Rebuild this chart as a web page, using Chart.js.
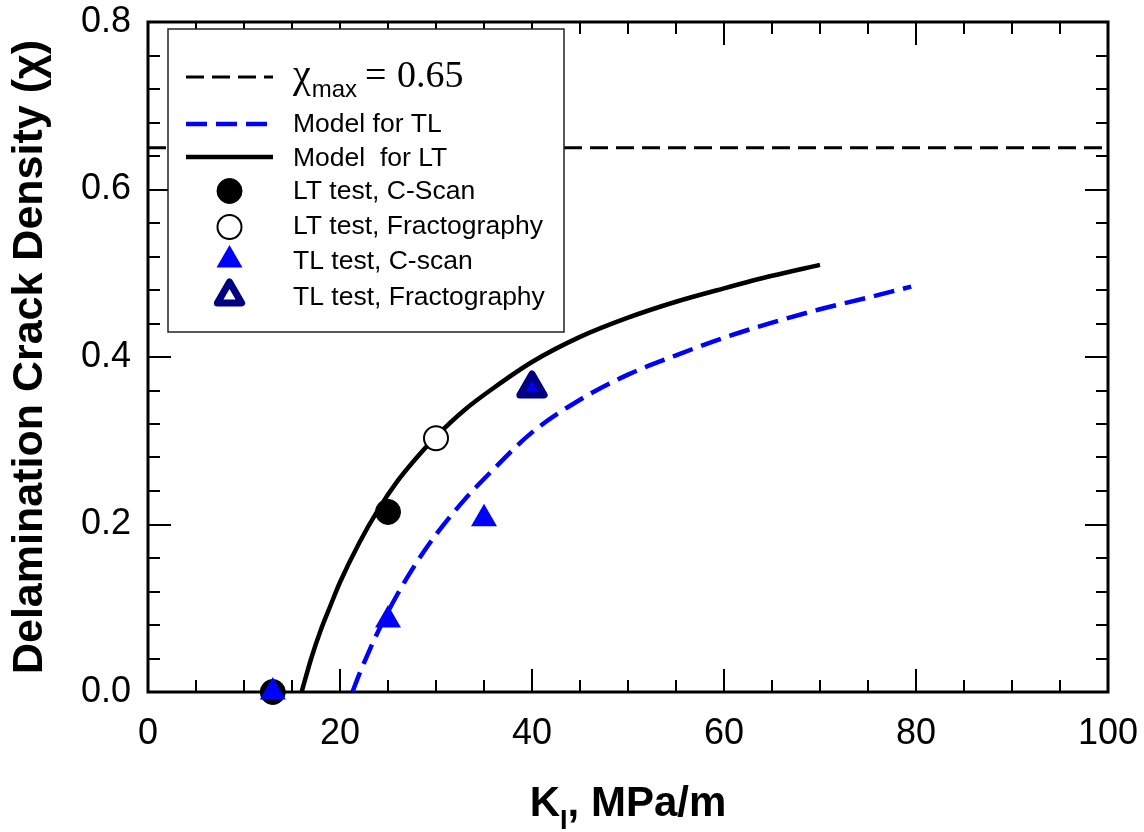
<!DOCTYPE html>
<html>
<head>
<meta charset="utf-8">
<title>Delamination crack density vs K_I</title>
<script src="https://cdn.jsdelivr.net/npm/chart.js@4/dist/chart.umd.min.js"></script>
<style>
  html, body { margin: 0; padding: 0; background: #ffffff; }
  #wrap { width: 1144px; height: 832px; }
</style>
</head>
<body>
<div id="wrap"><canvas id="chart" width="1144" height="832"></canvas></div>
<script>
// ---- axis ticks ----
const xTickValues = [0, 20, 40, 60, 80, 100];
const xTickLabels = ['0', '20', '40', '60', '80', '100'];
const yTickValues = [0, 0.2, 0.4, 0.6, 0.8];
const yTickLabels = ['0.0', '0.2', '0.4', '0.6', '0.8'];

// ---- saturation level ----
const chiMaxValue = 0.65;
const chiMaxK = [0, 100];

// ---- model curves ----
const tlModelK   = [21.3, 22.0, 23.0, 24.0, 26.0, 28.0, 30.0, 33.0, 36.0, 40.0, 45.0, 50.0, 55.0, 60.0, 65.0, 70.0, 75.0, 79.5];
const tlModelChi = [0.000, 0.021, 0.048, 0.073, 0.117, 0.155, 0.188, 0.230, 0.266, 0.310, 0.349, 0.379, 0.402, 0.423, 0.441, 0.457, 0.471, 0.484];

const ltModelK   = [16.0, 17.0, 18.0, 19.0, 20.0, 22.0, 24.0, 26.0, 28.0, 30.0, 33.0, 36.0, 40.0, 45.0, 50.0, 55.0, 60.0, 65.0, 70.0];
const ltModelChi = [0.000, 0.040, 0.074, 0.103, 0.131, 0.178, 0.218, 0.252, 0.280, 0.305, 0.337, 0.363, 0.394, 0.424, 0.447, 0.466, 0.482, 0.497, 0.510];

// ---- test measurements ----
const ltCscanK   = [13, 25];
const ltCscanChi = [0.000, 0.215];
const ltFractK   = [30];
const ltFractChi = [0.303];
const tlCscanK   = [13, 25, 35, 40];
const tlCscanChi = [0.000, 0.086, 0.207, 0.363];
const tlFractK   = [40];
const tlFractChi = [0.363];

// ---- legend text ----
const legendLabels = [
  'χmax = 0.65',
  'Model for TL',
  'Model  for LT',
  'LT test, C-Scan',
  'LT test, Fractography',
  'TL test, C-scan',
  'TL test, Fractography'
];

const pairs = (xs, ys) => xs.map((x, i) => ({ x: x, y: ys[i] }));

const SANS = '"Liberation Sans", Arial, Helvetica, sans-serif';
const SERIF = '"Liberation Serif", "Times New Roman", serif';
const BLUE = '#0000ff';
const NAVY = '#000080';

// frame with inward ticks on all four sides
const framePlugin = {
  id: 'frame',
  beforeDatasetsDraw(chart) {
    const { ctx, chartArea: a, scales: { x, y } } = chart;
    ctx.save();
    ctx.strokeStyle = '#000';
    ctx.lineCap = 'butt';
    ctx.lineWidth = 2;
    ctx.beginPath();
    for (let v = 0; v <= 100.001; v += 5) {
      const px = Math.round(x.getPixelForValue(v));
      const len = (Math.round(v) % 20 === 0) ? 23 : 12;
      ctx.moveTo(px, a.bottom); ctx.lineTo(px, a.bottom - len);
      ctx.moveTo(px, a.top);    ctx.lineTo(px, a.top + len);
    }
    for (let i = 0; i <= 20; i++) {
      const py = Math.round(y.getPixelForValue(i * 0.04));
      const len = (i % 5 === 0) ? 23 : 12;
      ctx.moveTo(a.left, py);  ctx.lineTo(a.left + len, py);
      ctx.moveTo(a.right, py); ctx.lineTo(a.right - len, py);
    }
    ctx.stroke();
    ctx.lineWidth = 3;
    ctx.strokeRect(a.left, a.top, a.right - a.left, a.bottom - a.top);
    ctx.restore();
  },
  beforeDatasetDraw(chart) { chart.ctx.lineJoin = 'round'; },
  afterDatasetDraw(chart) { chart.ctx.lineJoin = 'miter'; }
};

// x axis title with subscript I
const xTitlePlugin = {
  id: 'xTitle',
  afterDraw(chart) {
    const { ctx, chartArea: a } = chart;
    ctx.save();
    ctx.fillStyle = '#000';
    ctx.textBaseline = 'alphabetic';
    const big = 'bold 42px ' + SANS, small = 'bold 27px ' + SANS;
    ctx.font = big;  const wK = ctx.measureText('K').width;
    const wRest = ctx.measureText(', MPa/m').width;
    ctx.font = small; const wI = ctx.measureText('I').width;
    const total = wK + wI + wRest;
    let x0 = (a.left + a.right) / 2 - total / 2;
    const base = 816;
    ctx.font = big;   ctx.fillText('K', x0, base); x0 += wK;
    ctx.font = small; ctx.fillText('I', x0, base + 13); x0 += wI;
    ctx.font = big;   ctx.fillText(', MPa/m', x0, base);
    ctx.restore();
  }
};

// boxed legend with line samples and markers
const legendPlugin = {
  id: 'boxLegend',
  afterDatasetsDraw(chart) {
    const { ctx } = chart;
    const ds = chart.data.datasets;
    const box = { x: 168, y: 29, w: 396, h: 303 };
    const rowY = [77, 124, 157, 191, 227, 260, 296];
    const sx0 = 186, sx1 = 273, mx = 229.5, tx = 293;
    ctx.save();
    ctx.fillStyle = '#fff';
    ctx.fillRect(box.x, box.y, box.w, box.h);
    ctx.lineWidth = 1.5;
    ctx.strokeStyle = '#222';
    ctx.strokeRect(box.x, box.y, box.w, box.h);

    ds.forEach((d, i) => {
      const cy = rowY[i];
      ctx.save();
      if (d.showLine) {
        ctx.strokeStyle = d.borderColor;
        ctx.lineWidth = d.borderWidth;
        ctx.setLineDash(d.borderDash || []);
        ctx.lineCap = 'butt';
        ctx.beginPath();
        ctx.moveTo(sx0, cy); ctx.lineTo(sx1, cy);
        ctx.stroke();
      } else {
        ctx.lineJoin = 'round';
        ctx.fillStyle = d.pointBackgroundColor;
        ctx.strokeStyle = d.pointBorderColor;
        ctx.lineWidth = d.pointBorderWidth;
        Chart.helpers.drawPoint(ctx, {
          pointStyle: d.pointStyle,
          radius: d.pointRadius,
          rotation: 0,
          borderWidth: d.pointBorderWidth
        }, mx, cy);
      }
      ctx.restore();
    });

    ctx.fillStyle = '#000';
    ctx.textBaseline = 'alphabetic';
    // first entry: chi_max = 0.65
    ctx.font = '40px ' + SERIF;
    ctx.fillText('χ', tx, 87);
    const wChi = ctx.measureText('χ').width;
    ctx.font = '24px ' + SANS;
    ctx.fillText('max', tx + wChi + 1, 97);
    ctx.font = '38px ' + SERIF;
    ctx.fillText('=', 365, 87);
    ctx.fillText('0.65', 397, 87);

    const baselines = [0, 132, 165.5, 199, 234, 269, 305];
    ctx.font = '26.5px ' + SANS;
    for (let i = 1; i < legendLabels.length; i++) {
      ctx.fillText(legendLabels[i], tx, baselines[i]);
    }
    ctx.restore();
  }
};

const chart = new Chart(document.getElementById('chart'), {
  type: 'scatter',
  data: {
    datasets: [
      {
        label: legendLabels[0],
        data: pairs(chiMaxK, chiMaxK.map(() => chiMaxValue)),
        showLine: true, pointRadius: 0,
        borderColor: '#000', borderWidth: 3, borderDash: [18, 8],
        order: 6
      },
      {
        label: legendLabels[1],
        data: pairs(tlModelK, tlModelChi),
        showLine: true, pointRadius: 0,
        borderColor: BLUE, borderWidth: 4.5, borderDash: [21, 9],
        cubicInterpolationMode: 'monotone',
        order: 5
      },
      {
        label: legendLabels[2],
        data: pairs(ltModelK, ltModelChi),
        showLine: true, pointRadius: 0,
        borderColor: '#000', borderWidth: 4.5,
        cubicInterpolationMode: 'monotone',
        order: 4
      },
      {
        label: legendLabels[3],
        data: pairs(ltCscanK, ltCscanChi),
        showLine: false, pointStyle: 'circle', pointRadius: 12.5,
        pointBackgroundColor: '#000', pointBorderColor: '#000', pointBorderWidth: 1,
        clip: false, order: 3
      },
      {
        label: legendLabels[4],
        data: pairs(ltFractK, ltFractChi),
        showLine: false, pointStyle: 'circle', pointRadius: 12,
        pointBackgroundColor: '#fff', pointBorderColor: '#000', pointBorderWidth: 2,
        clip: false, order: 2
      },
      {
        label: legendLabels[5],
        data: pairs(tlCscanK, tlCscanChi),
        showLine: false, pointStyle: 'triangle', pointRadius: 15,
        pointBackgroundColor: BLUE, pointBorderColor: BLUE, pointBorderWidth: 0,
        clip: false, order: 1
      },
      {
        label: legendLabels[6],
        data: pairs(tlFractK, tlFractChi),
        showLine: false, pointStyle: 'triangle', pointRadius: 14,
        pointBackgroundColor: 'rgba(255,255,255,0)', pointBorderColor: NAVY, pointBorderWidth: 7,
        clip: false, order: 0
      }
    ]
  },
  options: {
    responsive: false,
    animation: false,
    devicePixelRatio: 1,
    events: [],
    layout: { padding: { top: 22, right: 36, left: 0, bottom: 0 } },
    plugins: { legend: { display: false }, tooltip: { enabled: false } },
    scales: {
      x: {
        type: 'linear', min: 0, max: 100,
        afterBuildTicks(s) { s.ticks = xTickValues.map(v => ({ value: v })); },
        ticks: {
          callback: (v, i) => xTickLabels[i],
          font: { family: SANS, size: 36 }, color: '#000',
          padding: 20, maxRotation: 0, autoSkip: false
        },
        grid: { display: false, drawTicks: false },
        border: { display: false },
        afterFit(s) { s.height = 140; s.paddingLeft = 0; s.paddingRight = 0; }
      },
      y: {
        type: 'linear', min: 0, max: 0.8,
        afterBuildTicks(s) { s.ticks = yTickValues.map(v => ({ value: v })); },
        ticks: {
          callback: (v, i) => yTickLabels[i],
          font: { family: SANS, size: 36 }, color: '#000',
          padding: 17, autoSkip: false
        },
        grid: { display: false, drawTicks: false },
        border: { display: false },
        title: {
          display: true,
          text: 'Delamination Crack Density (χ)',
          font: { family: SANS, size: 43, weight: 'bold' },
          color: '#000',
          padding: { top: 4, bottom: 0 }
        },
        afterFit(s) { s.width = 148; s.paddingTop = 0; s.paddingBottom = 0; }
      }
    }
  },
  plugins: [framePlugin, legendPlugin, xTitlePlugin]
});
</script>
</body>
</html>
